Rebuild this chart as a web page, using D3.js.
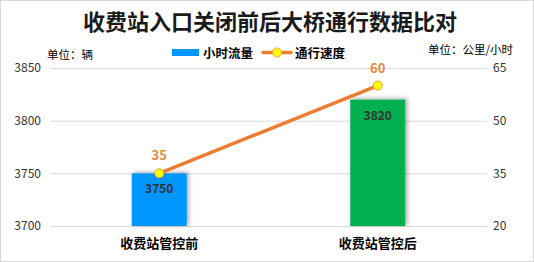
<!DOCTYPE html>
<html>
<head>
<meta charset="utf-8">
<script src="https://cdn.jsdelivr.net/npm/d3@7"></script>
<style>
  body { margin: 0; background: #fff; }
  text { font-family: "Noto Sans CJK SC", "Microsoft YaHei", sans-serif; }
</style>
</head>
<body>
<div id="chart"></div>
<script>
// Data
const categories = ['收费站管控前', '收费站管控后']
const flow = [3750, 3820]
const speed = [35, 60]
const barColors = ['#0096ff', '#00b050']
const leftTicks = [3700, 3750, 3800, 3850]
const rightTicks = [20, 35, 50, 65]

const width = 534
const height = 262
const margin = { top: 68, right: 47, bottom: 36, left: 50 }

const svg = d3.select('#chart')
  .append('svg')
  .attr('width', width)
  .attr('height', height)

// frame
svg.append('rect')
  .attr('x', 0.5).attr('y', 0.5)
  .attr('width', width - 1).attr('height', height - 1)
  .attr('fill', '#fff').attr('stroke', '#d9d9d9')

const defs = svg.append('defs')
const shadow = defs.append('filter').attr('id', 'shadow')
  .attr('x', '-20%').attr('y', '-20%').attr('width', '150%').attr('height', '150%')
shadow.append('feDropShadow')
  .attr('dx', 2).attr('dy', -1).attr('stdDeviation', 2)
  .attr('flood-color', '#000').attr('flood-opacity', 0.35)

//scales
const x = d3.scaleBand()
  .domain(categories)
  .range([margin.left, width - margin.right])

const yL = d3.scaleLinear()
  .domain([3700, 3850])
  .range([height - margin.bottom, margin.top])

const yR = d3.scaleLinear()
  .domain([20, 65])
  .range([height - margin.bottom, margin.top])

// grid
svg.append('g')
  .selectAll('line')
  .data(leftTicks)
  .join('line')
  .attr('x1', margin.left).attr('x2', width - margin.right)
  .attr('y1', d => yL(d) + 0.5).attr('y2', d => yL(d) + 0.5)
  .attr('stroke', '#d9d9d9')

// axes
const axL = svg.append('g')
  .attr('transform', `translate(${margin.left - 9},0)`)
  .call(d3.axisLeft(yL).tickValues(leftTicks).tickFormat(d3.format('d')).tickSize(0).tickPadding(0))
axL.select('.domain').remove()
axL.selectAll('text').attr('font-size', 12).attr('fill', '#333')
  .attr('font-family', '"DejaVu Sans", sans-serif')

const axR = svg.append('g')
  .attr('transform', `translate(${width - margin.right + 6},0)`)
  .call(d3.axisRight(yR).tickValues(rightTicks).tickFormat(d3.format('d')).tickSize(0).tickPadding(0))
axR.select('.domain').remove()
axR.selectAll('text').attr('font-size', 12).attr('fill', '#333')
  .attr('font-family', '"DejaVu Sans", sans-serif')

// bars
const barW = 55
svg.append('g')
  .selectAll('rect')
  .data(flow)
  .join('rect')
  .attr('x', (d, i) => x(categories[i]) + x.bandwidth() / 2 - barW / 2)
  .attr('y', d => yL(d))
  .attr('width', barW)
  .attr('height', d => yL(3700) - yL(d))
  .attr('fill', (d, i) => barColors[i])
  .attr('filter', 'url(#shadow)')

svg.append('g')
  .selectAll('text')
  .data(flow)
  .join('text')
  .attr('x', (d, i) => x(categories[i]) + x.bandwidth() / 2)
  .attr('y', d => yL(d) + 20)
  .attr('text-anchor', 'middle')
  .attr('font-size', 12)
  .attr('font-weight', 'bold')
  .attr('fill', '#333')
  .attr('font-family', '"Liberation Sans", sans-serif')
  .text(d => d)

// line
const line = d3.line()
  .x((d, i) => x(categories[i]) + x.bandwidth() / 2)
  .y(d => yR(d))

svg.append('path')
  .datum(speed)
  .attr('d', line)
  .attr('fill', 'none')
  .attr('stroke', '#ed7d31')
  .attr('stroke-width', 3.5)
  .attr('stroke-linecap', 'round')

svg.append('g')
  .selectAll('circle')
  .data(speed)
  .join('circle')
  .attr('cx', (d, i) => x(categories[i]) + x.bandwidth() / 2)
  .attr('cy', d => yR(d))
  .attr('r', 4.5)
  .attr('fill', '#ffff00')
  .attr('stroke', '#f0a030')
  .attr('stroke-width', 1)

svg.append('g')
  .selectAll('text')
  .data(speed)
  .join('text')
  .attr('x', (d, i) => x(categories[i]) + x.bandwidth() / 2)
  .attr('y', d => yR(d) - 13)
  .attr('text-anchor', 'middle')
  .attr('font-size', 13)
  .attr('font-weight', 'bold')
  .attr('fill', '#e08a3c')
  .attr('font-family', '"Liberation Sans", sans-serif')
  .text(d => d)

// category labels
svg.append('g')
  .selectAll('text')
  .data(categories)
  .join('text')
  .attr('x', d => x(d) + x.bandwidth() / 2)
  .attr('y', height - margin.bottom + 22)
  .attr('text-anchor', 'middle')
  .attr('font-size', 13)
  .attr('font-weight', 'bold')
  .attr('fill', '#000')
  .text(d => d)

// title
svg.append('text')
  .attr('x', 270).attr('y', 30)
  .attr('text-anchor', 'middle')
  .attr('font-size', 22)
  .attr('font-weight', 'bold')
  .attr('fill', '#1a1a1a')
  .text('收费站入口关闭前后大桥通行数据比对')

// units
svg.append('text')
  .attr('x', 47).attr('y', 59)
  .attr('font-size', 11.5).attr('fill', '#000')
  .text('单位：辆')
svg.append('text')
  .attr('x', 513).attr('y', 54)
  .attr('text-anchor', 'end')
  .attr('font-size', 11.5).attr('fill', '#000')
  .text('单位：公里/小时')

// legend
svg.append('rect')
  .attr('x', 172).attr('y', 49).attr('width', 27).attr('height', 7)
  .attr('fill', barColors[0])
svg.append('text')
  .attr('x', 203).attr('y', 58)
  .attr('font-size', 12.5).attr('font-weight', 'bold')
  .text('小时流量')
svg.append('line')
  .attr('x1', 263).attr('x2', 291).attr('y1', 52.5).attr('y2', 52.5)
  .attr('stroke', '#ed7d31').attr('stroke-width', 3.5).attr('stroke-linecap', 'round')
svg.append('circle')
  .attr('cx', 277).attr('cy', 52.5).attr('r', 4.5)
  .attr('fill', '#ffff00').attr('stroke', '#f0a030')
svg.append('text')
  .attr('x', 295).attr('y', 58)
  .attr('font-size', 12.5).attr('font-weight', 'bold')
  .text('通行速度')
</script>
</body>
</html>
